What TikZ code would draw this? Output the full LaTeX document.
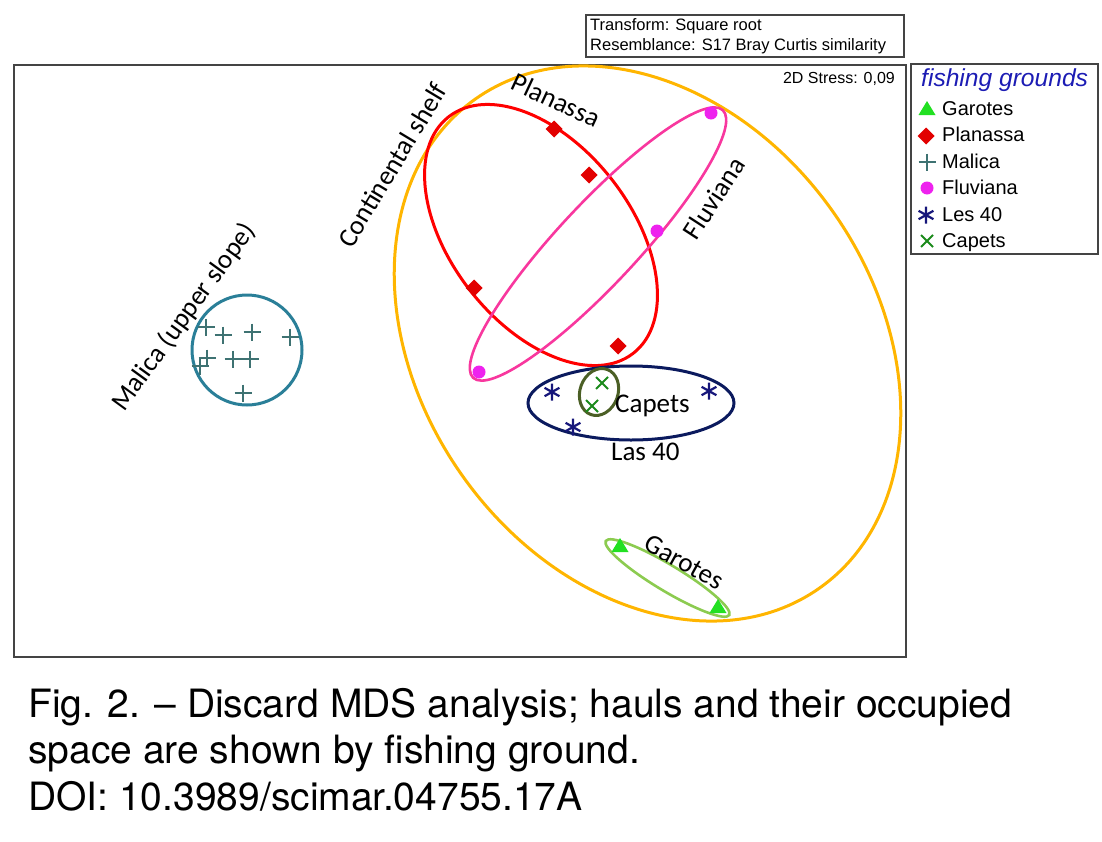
\documentclass[tikz,border=0pt]{standalone}
\usepackage{fontspec}
\setmainfont{Liberation Sans}
\newfontfamily\labelfont{Carlito}
\newfontfamily\capfont{TeX Gyre Heros}
\usepackage{xcolor}
\usepackage{tikz}

\definecolor{shelfcol}{HTML}{FFB500}
\definecolor{plancol}{HTML}{FF0000}
\definecolor{plandot}{HTML}{E20000}
\definecolor{fluvcol}{HTML}{F8379E}
\definecolor{fluvdot}{HTML}{EE22EE}
\definecolor{lescol}{HTML}{0B1A5E}
\definecolor{lesdot}{HTML}{16167A}
\definecolor{capcol}{HTML}{4B5F25}
\definecolor{capdot}{HTML}{1B8A1B}
\definecolor{malcol}{HTML}{2A7F98}
\definecolor{maldot}{HTML}{3E7272}
\definecolor{garcol}{HTML}{8CCB50}
\definecolor{gardot}{HTML}{22E022}
\definecolor{legblue}{HTML}{1C1CB4}
\definecolor{framecol}{HTML}{444444}

% Markers (x, y in pixels)
\newcommand{\marktri}[2]{\fill[gardot] (#1,#2-8) -- (#1+8.5,#2+6) -- (#1-8.5,#2+6) -- cycle;}
\newcommand{\markdiamond}[2]{\fill[plandot] (#1,#2-8.5) -- (#1+8.5,#2) -- (#1,#2+8.5) -- (#1-8.5,#2) -- cycle;}
\newcommand{\markplus}[2]{\draw[maldot, line width=2.2pt] (#1-8.5,#2) -- (#1+8.5,#2) (#1,#2-8.5) -- (#1,#2+8.5);}
\newcommand{\markdot}[2]{\fill[fluvdot] (#1,#2) circle (6.5);}
\newcommand{\markstar}[2]{\draw[lesdot, line width=2.2pt] (#1,#2-8.5) -- (#1,#2+8.5) (#1-7.4,#2-4.2) -- (#1+7.4,#2+4.2) (#1-7.4,#2+4.2) -- (#1+7.4,#2-4.2);}
\newcommand{\markcross}[2]{\draw[capdot, line width=2pt] (#1-6,#2-6) -- (#1+6,#2+6) (#1-6,#2+6) -- (#1+6,#2-6);}

\begin{document}
\begin{tikzpicture}[x=1pt, y=-1pt,
    hull/.style={line width=3pt},
    lbl/.style={font=\labelfont\fontsize{27}{32}\selectfont, inner sep=0pt},
    boxtxt/.style={font=\fontsize{16.5}{20}\selectfont, anchor=base west, inner sep=0pt},
    legtxt/.style={font=\fontsize{20}{24}\selectfont, anchor=base west, inner sep=0pt},
    captxt/.style={font=\capfont\fontsize{39}{46}\selectfont, anchor=base west, inner sep=0pt}]
    \useasboundingbox (0,0) rectangle (1102,841);

    % Frames
    \draw[framecol, line width=1.3pt] (14,65) rectangle (906,657);
    \draw[framecol, line width=1.3pt] (586,15) rectangle (904,57);
    \draw[framecol, line width=1.3pt] (911,64) rectangle (1098,254);

    % Transform box
    \node[boxtxt] (transform) at (590,30) {Transform: Square root};
    \node[boxtxt] (resemblance) at (590,50) {Resemblance: S17 Bray Curtis similarity};
    \node[font=\fontsize{16}{20}\selectfont, anchor=base east, inner sep=0pt] (stress) at (895,83) {2D Stress: 0,09};

    % Group outlines
    \draw[shelfcol, hull, shift={(647.5,343.5)}, rotate=-55] (0,0) ellipse [x radius=299, y radius=227.5];
    \draw[plancol, hull, shift={(541,235)}, rotate=-52] (0,0) ellipse [x radius=150, y radius=90];
    \draw[fluvcol, line width=2.6pt, shift={(598,244)}, rotate=47] (0,0) ellipse [x radius=183, y radius=40];
    \draw[lescol, hull] (631,403) ellipse [x radius=103, y radius=37];
    \draw[capcol, hull, shift={(599,392)}, rotate=-20] (0,0) ellipse [x radius=19, y radius=24];
    \draw[garcol, line width=2.6pt, shift={(667.5,578)}, rotate=-31] (0,0) ellipse [x radius=72, y radius=13];
    \draw[malcol, hull] (247,350) circle (55);

    % Hauls
    \foreach \px/\py in {554/129, 589/175, 474/288, 618/346} {\markdiamond{\px}{\py}}
    \foreach \px/\py in {711/113, 657/231, 479/372} {\markdot{\px}{\py}}
    \foreach \px/\py in {206/327, 223/335, 252/332, 290/337, 207/358, 200/366, 233/359, 250/359, 243/393} {\markplus{\px}{\py}}
    \foreach \px/\py in {552/392, 573/427, 709/391} {\markstar{\px}{\py}}
    \foreach \px/\py in {602/383, 592/406} {\markcross{\px}{\py}}
    \foreach \px/\py in {620/546, 718/607} {\marktri{\px}{\py}}

    % Group labels
    \node[lbl, rotate=54] (malica) at (184,317) {Malica (upper slope)};
    \node[lbl, rotate=59] (shelf) at (392,165) {Continental shelf};
    \node[lbl, rotate=-25] (planassa) at (556,100) {Planassa};
    \node[lbl, rotate=57] (fluviana) at (714,198) {Fluviana};
    \node[lbl, anchor=base west] (capets) at (615,412) {Capets};
    \node[lbl, anchor=base west] (les40) at (611,460) {Las 40};
    \node[lbl, rotate=-29] (garotes) at (684,562) {Garotes};

    % Legend
    \node[font=\itshape\fontsize{24.6}{28}\selectfont, text=legblue, anchor=base west, inner sep=0pt] (legtitle) at (921,86) {fishing grounds};
    \marktri{927}{109}
    \markdiamond{926}{136}
    \markplus{927}{162}
    \markdot{927}{188}
    \markstar{926}{215}
    \markcross{927}{241}
    \node[legtxt] (leggar) at (942,115) {Garotes};
    \node[legtxt] (legplan) at (942,141.5) {Planassa};
    \node[legtxt] (legmal) at (942,168) {Malica};
    \node[legtxt] (legfluv) at (942,194.5) {Fluviana};
    \node[legtxt] (legles) at (942,221) {Les 40};
    \node[legtxt] (legcap) at (942,247.5) {Capets};

    % Caption
    \node[captxt] (cap1) at (28,717) {Fig. 2. – Discard MDS analysis; hauls and their occupied};
    \node[captxt] (cap2) at (28,763) {space are shown by fishing ground.};
    \node[captxt] (cap3) at (28,810) {DOI: 10.3989/scimar.04755.17A};
\end{tikzpicture}
\end{document}
